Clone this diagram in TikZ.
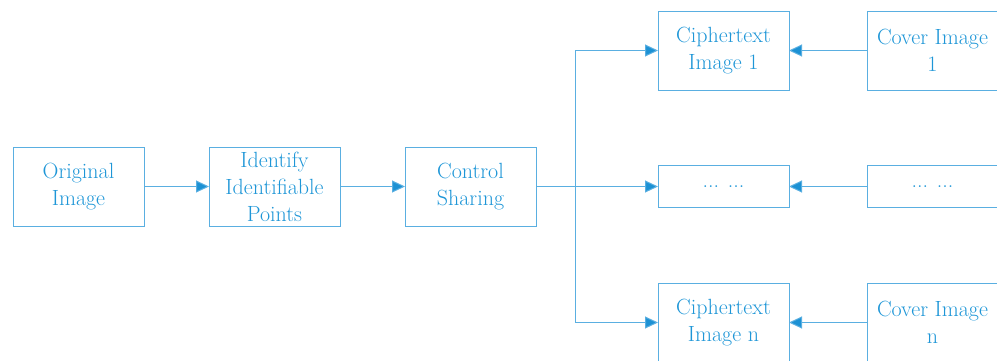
\documentclass[tikz,border=0pt]{standalone}
\usepackage{tikz}
\usetikzlibrary{arrows.meta, positioning}
\usepackage{xcolor}
\definecolor{lineblue}{RGB}{90,175,225}
\definecolor{textblue}{RGB}{30,150,215}
\definecolor{tipblue}{RGB}{28,145,212}

\begin{document}
\begin{tikzpicture}[
				mstep/.style={draw=lineblue, line width=1pt, minimum height=79pt, minimum width=131pt, inner sep=0pt, outer sep=0pt, align=center, text=textblue, font=\fontsize{22}{27}\selectfont},
				dotstep/.style={mstep, minimum height=42pt},
				arrowstyle/.style={-{Triangle[length=13pt, width=12pt, fill=tipblue]}, line width=1pt, lineblue}
			]
			\useasboundingbox (0pt,0pt) rectangle (997pt,-360pt);
			\node[mstep] (orig) at (78.5pt,-186.5pt) {Original\\Image};
			\node[mstep, right=65pt of orig] (ident) {Identify\\Identifiable\\Points};
			\node[mstep, right=65pt of ident] (ctrl) {Control\\Sharing};
			\node[dotstep, right=122pt of ctrl] (cdots) {... ...};
			\node[mstep, right=122pt of ctrl, yshift=136pt] (ciph1) {Ciphertext\\Image 1};
			\node[mstep, right=122pt of ctrl, yshift=-136pt] (ciphn) {Ciphertext\\Image n};
			\node[mstep, right=78pt of ciph1] (cov1) {Cover Image\\1};
			\node[dotstep, right=78pt of cdots] (covdots) {... ...};
			\node[mstep, right=78pt of ciphn] (covn) {Cover Image\\n};
			\coordinate[right=39pt of ctrl.east] (split);
			\draw[arrowstyle] (orig) -- (ident);
			\draw[arrowstyle] (ident) -- (ctrl);
			\draw[arrowstyle] (ctrl) -- (cdots);
			\draw[arrowstyle] (split) |- (ciph1);
			\draw[arrowstyle] (split) |- (ciphn);
			\draw[arrowstyle] (cov1) -- (ciph1);
			\draw[arrowstyle] (covdots) -- (cdots);
			\draw[arrowstyle] (covn) -- (ciphn);
		\end{tikzpicture}
\end{document}
